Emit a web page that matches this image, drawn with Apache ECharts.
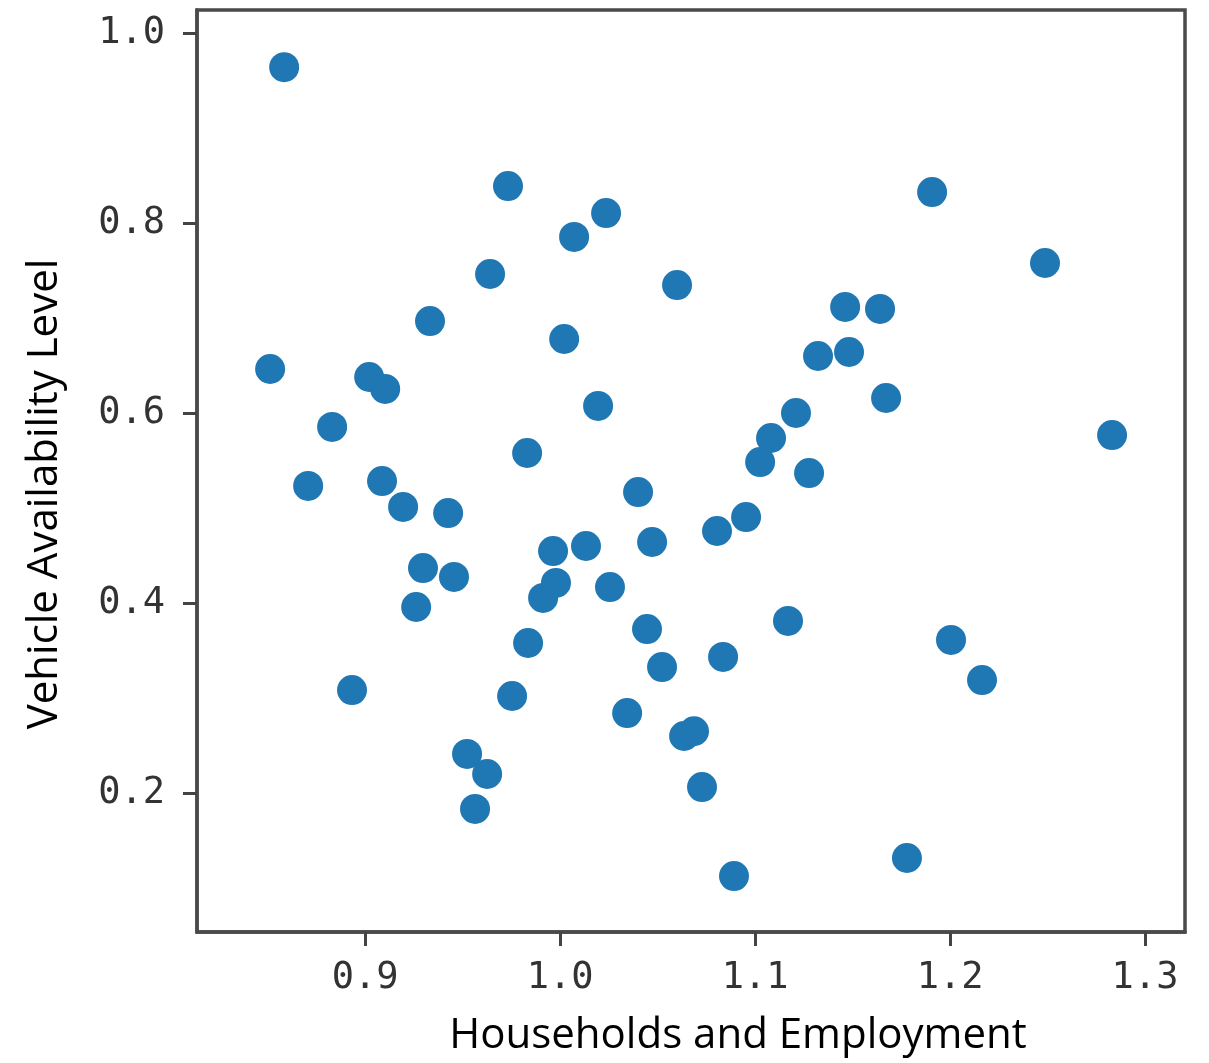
<!DOCTYPE html>
<html>
<head>
<meta charset="utf-8">
<script src="https://cdn.jsdelivr.net/npm/echarts@6/dist/echarts.min.js"></script>
<style>
html,body{margin:0;padding:0;background:#fff;}
#chart{width:1209px;height:1063px;}
</style>
</head>
<body>
<div id="chart"></div>
<script>
const xTitle = 'Households and Employment';
const yTitle = 'Vehicle Availability Level';
const xTicks = [0.9, 1.0, 1.1, 1.2, 1.3];
const yTicks = [0.2, 0.4, 0.6, 0.8, 1.0];
const xValues = [0.8585,0.8513,0.8708,0.8831,0.8933,0.9021,0.9103,0.9087,0.9195,0.9333,
  0.9297,0.9262,0.9426,0.9456,0.9523,0.9564,0.9626,0.9641,0.9733,0.9754,
  0.9831,0.9836,0.9913,0.9979,0.9964,1.0021,1.0072,1.0133,1.0195,1.0236,
  1.0256,1.0344,1.0400,1.0446,1.0472,1.0523,1.0600,1.0636,1.0687,1.0728,
  1.0805,1.0836,1.0892,1.0954,1.1026,1.1082,1.1169,1.1210,1.1277,1.1323,
  1.1462,1.1482,1.1641,1.1672,1.1779,1.1908,1.2005,1.2164,1.2487,1.2831];
const yValues = [0.964,0.6463,0.5232,0.5853,0.3084,0.6379,0.6253,0.5284,0.5011,0.6968,
  0.4368,0.3958,0.4947,0.4274,0.2411,0.1832,0.2200,0.7463,0.8389,0.3021,
  0.5579,0.3579,0.4053,0.4211,0.4547,0.6779,0.7853,0.4600,0.6074,0.8105,
  0.4168,0.2842,0.5168,0.3726,0.4642,0.3326,0.7347,0.2600,0.2650,0.2063,
  0.4758,0.3432,0.1126,0.4905,0.5484,0.5737,0.3811,0.6000,0.5368,0.6600,
  0.7116,0.6642,0.7095,0.6158,0.1316,0.8326,0.3611,0.3189,0.7579,0.5768];

const points = xValues.map((x, i) => [x, yValues[i]]);
const chart = echarts.init(document.getElementById('chart'));
const tickFont = {fontFamily:'DejaVu Sans Mono', fontSize:37, color:'#333'};
chart.setOption({
  animation:false,
  grid:{left:197, right:24, top:10, bottom:131, show:true, borderColor:'#4a4a4a', borderWidth:3.5, backgroundColor:'#fff'},
  xAxis:{type:'value', min:0.8138, max:1.3205,
    axisLine:{show:true, lineStyle:{color:'#4a4a4a', width:3.5}},
    axisTick:{show:true, length:14, lineStyle:{color:'#444', width:3}, customValues:xTicks},
    axisLabel:{margin:28, ...tickFont, customValues:xTicks, formatter:v=>v.toFixed(1)},
    splitLine:{show:false}},
  yAxis:{type:'value', min:0.0537, max:1.0242,
    axisLine:{show:true, lineStyle:{color:'#4a4a4a', width:3.5}},
    axisTick:{show:true, length:14, lineStyle:{color:'#444', width:3}, customValues:yTicks},
    axisLabel:{margin:32, ...tickFont, customValues:yTicks, formatter:v=>v.toFixed(1)},
    splitLine:{show:false}},
  graphic:[
    {type:'text', x:738, y:1036, style:{text:xTitle, font:'42px "Open Sans"', fill:'#000', align:'center', verticalAlign:'middle'}},
    {type:'text', x:45, y:494, rotation:Math.PI/2, style:{text:yTitle, font:'42px "Open Sans"', fill:'#000', align:'center', verticalAlign:'middle'}}
  ],
  series:[{type:'scatter', data:points, symbolSize:30, itemStyle:{color:'#1f77b4', opacity:1}}]
});
</script>
</body>
</html>
